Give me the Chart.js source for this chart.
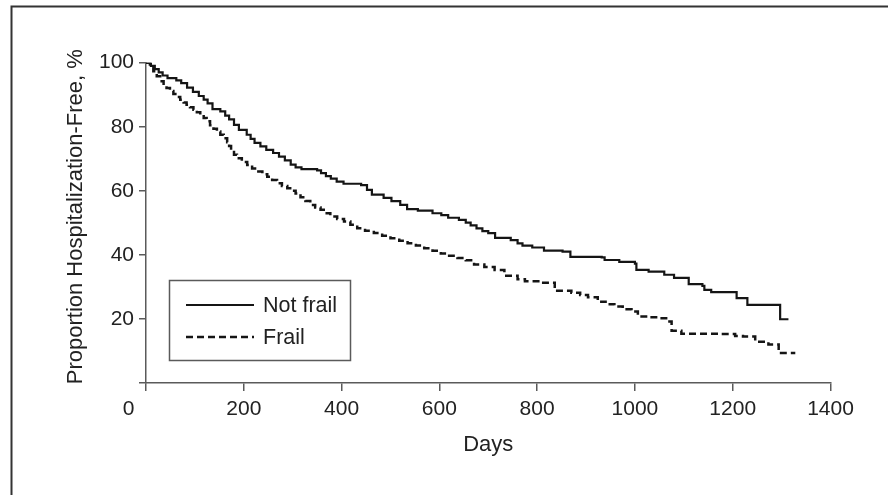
<!DOCTYPE html>
<html>
<head>
<meta charset="utf-8">
<script src="https://cdn.jsdelivr.net/npm/chart.js@4.4.1/dist/chart.umd.min.js"></script>
<style>
  html, body { margin: 0; padding: 0; background: #fff; }
  #wrap { width: 888px; height: 495px; }
</style>
</head>
<body>
<div id="wrap"><canvas id="chart" width="888" height="495"></canvas></div>
<script>
// Kaplan-Meier estimates (days, % hospitalization-free)
var notFrailDays = [0, 10, 18, 26, 34, 44, 62, 72, 84, 96, 108, 118, 126, 136, 152, 162, 170, 180, 190, 206,
    214, 222, 234, 246, 260, 272, 284, 296, 306, 318, 350, 358, 368, 378, 390, 404, 440, 452, 462, 486,
    502, 520, 534, 556, 586, 604, 618, 640, 654, 664, 676, 688, 700, 714, 746, 760, 770, 790, 814, 852,
    868, 932, 938, 968, 1000, 1003, 1028, 1060, 1080, 1110, 1138, 1142, 1156, 1208, 1230, 1297, 1314];
var notFrailValues = [100, 99, 98, 97, 96, 95.2, 94.5, 93.6, 92.2, 90.9, 89.6, 88.5, 87.3, 85.5, 84.8, 83.5, 82.3, 80.6, 79, 77.5,
    76.2, 75, 73.9, 72.8, 71.8, 70.7, 69.5, 68.2, 67.3, 66.8, 66.4, 65.5, 64.6, 63.8, 62.9, 62.2, 61.8, 60.3, 58.8, 57.8,
    56.8, 55.6, 54.3, 53.8, 53, 52.4, 51.6, 50.9, 50.1, 49.2, 48.3, 47.4, 46.8, 45.3, 44.6, 43.6, 42.9, 42.3, 41.3, 41,
    39.4, 39.2, 38.4, 37.8, 37.3, 35.3, 34.8, 33.8, 32.8, 30.9, 30.3, 29.1, 28.4, 26.5, 24.4, 19.9, 19.9];

var frailDays = [0, 8, 15, 22, 29, 36, 42, 49, 56, 63, 70, 77, 83, 90, 97, 104, 111, 118, 124, 131,
    138, 145, 152, 159, 166, 170, 174, 180, 186, 196, 207, 217, 227, 238, 248, 258, 268, 278, 289, 298,
    306, 316, 326, 336, 346, 357, 367, 377, 391, 405, 418, 432, 448, 466, 483, 500, 518, 535, 552, 569,
    586, 603, 620, 637, 654, 671, 692, 713, 733, 760, 775, 808, 836, 870, 888, 904, 924, 940, 958, 975,
    993, 1006, 1027, 1048, 1068, 1075, 1095, 1177, 1205, 1221, 1246, 1273, 1294, 1328];
var frailValues = [100, 98.5, 97.3, 95.8, 94.2, 93, 92.1, 91.2, 90.2, 89.3, 88.4, 87.6, 86.9, 86.1, 85.3, 84.5, 83.75, 82.7, 81.7, 80.5,
    79.4, 78.5, 77.5, 76.4, 75.2, 74, 72.6, 71.3, 70.2, 69, 68.1, 67, 66, 65.2, 64.4, 63.4, 62.4, 61.5, 60.8, 60,
    59.2, 58, 56.8, 55.6, 54.8, 54.1, 53, 52, 51.2, 50.4, 49.4, 48.3, 47.5, 46.8, 46, 45.2, 44.4, 43.6, 42.9, 42.1,
    41.3, 40.4, 39.7, 39, 38.3, 37, 36.2, 35.3, 33.5, 32.4, 31.8, 31.3, 28.8, 28.2, 27.5, 26.8, 25.4, 24.6, 23.9, 23,
    22.3, 20.8, 20.5, 20.2, 19.2, 16.3, 15.4, 15.3, 14.7, 14.5, 12.9, 12, 9.4, 9.4];

var xTicks = [0, 200, 400, 600, 800, 1000, 1200, 1400];
var yTicks = [20, 40, 60, 80, 100];

var fuente = "'Liberation Sans', Arial, sans-serif";
var gris = '#5a5a5a';

function puntos(dias, valores) {
    return dias.map(function (d, i) {
        return { x: d, y: valores[i] };
    });
}

// marco de la figura y leyenda dentro del area
var extras = {
    id: 'extras',
    afterDraw: function (chart) {
        var ctx = chart.ctx;
        ctx.save();
        ctx.strokeStyle = '#333';
        ctx.lineWidth = 2;
        ctx.beginPath();
        ctx.moveTo(11.5, 495);
        ctx.lineTo(11.5, 6.5);
        ctx.lineTo(888, 6.5);
        ctx.stroke();

        ctx.strokeStyle = gris;
        ctx.lineWidth = 1.5;
        ctx.strokeRect(169.5, 280.5, 181, 80);

        ctx.font = '21.5px ' + fuente;
        ctx.textBaseline = 'middle';
        ctx.fillStyle = '#222';
        chart.data.datasets.forEach(function (ds, i) {
            var y = 305 + i * 32;
            ctx.strokeStyle = ds.borderColor;
            ctx.lineWidth = ds.borderWidth;
            ctx.setLineDash(ds.borderDash || []);
            ctx.beginPath();
            ctx.moveTo(186, y);
            ctx.lineTo(254, y);
            ctx.stroke();
            ctx.setLineDash([]);
            ctx.fillText(ds.label, 263, y + 1);
        });
        ctx.restore();
    }
};

var canvas = document.getElementById('chart').getContext('2d');
window.km = new Chart(canvas, {
    type: 'line',
    data: {
        datasets: [{
            label: 'Not frail',
            data: puntos(notFrailDays, notFrailValues),
            borderColor: '#151515',
            borderWidth: 2.2,
            stepped: true,
            pointRadius: 0,
            fill: false
        }, {
            label: 'Frail',
            data: puntos(frailDays, frailValues),
            borderColor: '#151515',
            borderWidth: 2.5,
            borderDash: [7, 4],
            stepped: true,
            pointRadius: 0,
            fill: false
        }]
    },
    options: {
        responsive: false,
        animation: false,
        layout: {
            padding: { left: 58.5, right: 57.5, top: 62.7, bottom: 33 }
        },
        plugins: {
            legend: { display: false },
            tooltip: { enabled: false }
        },
        scales: {
            x: {
                type: 'linear',
                min: 0,
                max: 1400,
                afterBuildTicks: function (scale) {
                    scale.ticks = xTicks.map(function (v) { return { value: v }; });
                },
                afterFit: function (scale) { scale.height = 79; },
                ticks: {
                    color: '#222',
                    font: { family: fuente, size: 21 },
                    padding: 6,
                    maxRotation: 0,
                    callback: function (v) { return v === 0 ? '0\u00a0\u00a0\u00a0\u00a0\u00a0\u00a0' : String(v); }
                },
                grid: { drawOnChartArea: false, drawTicks: true, tickLength: 8, color: gris, lineWidth: 1.5 },
                border: { display: true, color: gris, width: 1.5 },
                title: {
                    display: true,
                    text: 'Days',
                    color: '#222',
                    font: { family: fuente, size: 22 },
                    padding: 4
                }
            },
            y: {
                min: 0,
                max: 100,
                afterBuildTicks: function (scale) {
                    scale.ticks = [0].concat(yTicks).map(function (v) { return { value: v }; });
                },
                afterFit: function (scale) { scale.width = 146 - 58.5; },
                ticks: {
                    color: '#222',
                    font: { family: fuente, size: 21 },
                    padding: 5,
                    callback: function (v) { return v === 0 ? '' : String(v); }
                },
                grid: { drawOnChartArea: false, drawTicks: true, tickLength: 7, color: gris, lineWidth: 1.5 },
                border: { display: true, color: gris, width: 1.5 },
                title: {
                    display: true,
                    text: '\u00a0\u00a0Proportion Hospitalization-Free, %',
                    color: '#222',
                    font: { family: fuente, size: 22 },
                    padding: 4
                }
            }
        }
    },
    plugins: [extras]
});
</script>
</body>
</html>
